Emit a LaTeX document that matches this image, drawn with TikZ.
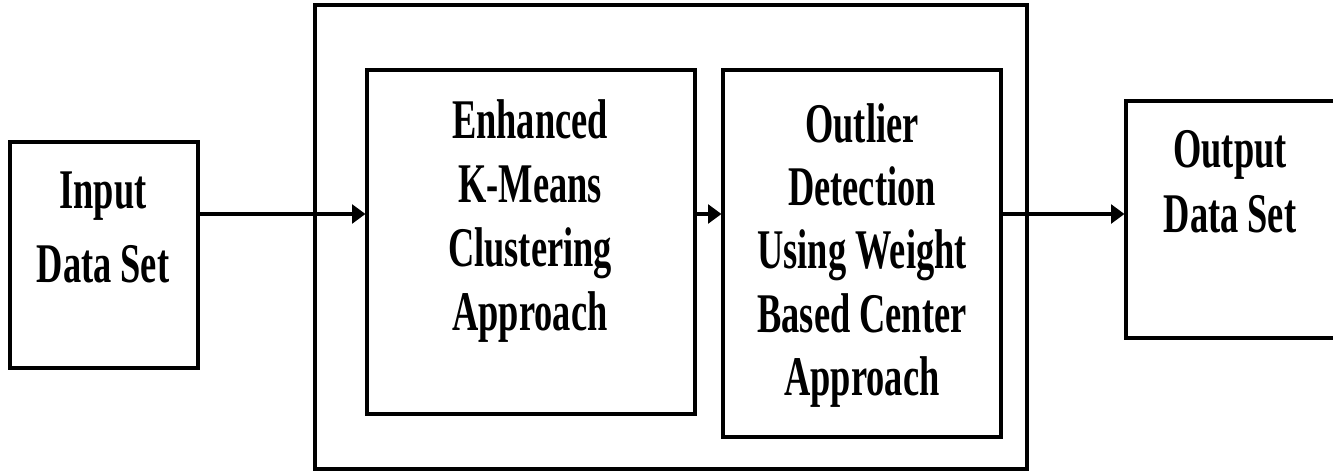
\documentclass[tikz,border=0pt]{standalone}
\usepackage{fontspec}
\newfontfamily\boxfont[FakeStretch=0.65]{Liberation Serif}
\usetikzlibrary{arrows.meta}
\begin{document}
\begin{tikzpicture}[x=0.75pt,y=-0.75pt,
  box/.style={draw=black,line width=2.3pt,inner sep=0pt,rectangle},
  label/.style={inner sep=0pt,anchor=north,align=center},
  arr/.style={line width=2.3pt,-{Triangle[length=10pt,width=14pt]}}]
\useasboundingbox (0,0) rectangle (1333,471);

% frames
\node[box,minimum width=141pt,minimum height=169.5pt] (in) at (104,255) {};
\node[box,minimum width=534pt,minimum height=348pt] (outer) at (671,237) {};
\node[box,minimum width=246pt,minimum height=258pt] (enh) at (531,242) {};
\node[box,minimum width=208.5pt,minimum height=275.25pt] (odet) at (862,253.5) {};
\node[box,minimum width=157.5pt,minimum height=177.75pt] (out) at (1231,219.5) {};

% captions
\node[label,font={\boxfont\bfseries\fontsize{42}{55}\selectfont}] (tin) at (103,172) {Input\\Data Set};
\node[label,font={\boxfont\bfseries\fontsize{42}{48}\selectfont}] (tenh) at (530,99) {Enhanced\\K-Means\\Clustering\\Approach};
\node[label,font={\boxfont\bfseries\fontsize{42}{47.5}\selectfont}] (todet) at (862,103) {Outlier\\Detection\\Using Weight\\Based Center\\Approach};
\node[label,font={\boxfont\bfseries\fontsize{42}{49}\selectfont}] (tout) at (1230,130) {Output\\Data Set};

% flow
\coordinate (row) at (0,214);
\draw[arr] (in.east |- row) -- (enh.west |- row);
\draw[arr] (enh.east |- row) -- (odet.west |- row);
\draw[arr] (odet.east |- row) -- (out.west |- row);
\end{tikzpicture}
\end{document}
